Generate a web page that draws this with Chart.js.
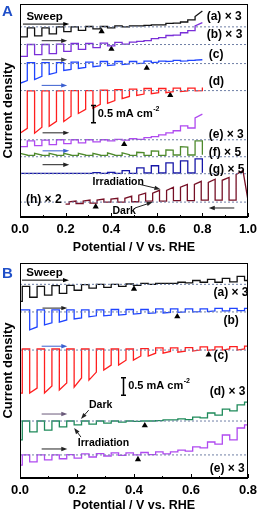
<!DOCTYPE html>
<html>
<head>
<meta charset="utf-8">
<script src="https://cdn.jsdelivr.net/npm/chart.js@4.4.1/dist/chart.umd.min.js"></script>
<style>
  body { margin: 0; background: #fff; }
  canvas { position: absolute; left: 0; }
</style>
</head>
<body>
<canvas id="chartA" width="262" height="257" style="top:0"></canvas>
<canvas id="chartB" width="262" height="256" style="top:257px"></canvas>
<script>
// x: potential / V vs. RHE, y: current density as plotted (mA cm-2, offset per trace)
// each trace: value at light on, value when light goes off, dark value after the pulse
// (all relative to the trace's dashed zero line)

// ---- panel A ----
const chopA = [0, 0.064, 0.128, 0.192, 0.256, 0.32, 0.384, 0.448, 0.512, 0.576, 0.64, 0.704, 0.768];
const chopAh = [0.978, 0.917, 0.856, 0.795, 0.734, 0.673, 0.612, 0.551, 0.49, 0.429, 0.368, 0.307, 0.246];
const labelsA = ['(a) × 3', '(b) × 3', '(c)', '(d)', '(e) × 3', '(f) × 5', '(g) × 5', '(h) × 2'];
const zeroA = [5.49, 4.98, 4.43, 3.65, 2.23, 1.74, 1.25, 0.43];
const onsetA = [0.358, 0.401, 0.556, 0.659, 0.457, null, null, 0.332];

const aA_light = [-0.29, -0.26, -0.2, -0.14, -0.1, -0.06, -0.03, 0, 0.03, 0.06, 0.1, 0.14, 0.3];
const aA_end   = [-0.29, -0.26, -0.2, -0.14, -0.1, -0.06, -0.03, 0, 0.03, 0.06, 0.1, 0.14, 0.46];
const aA_dark  = [-0.03, -0.03, 0, 0, 0.01, 0.01, 0.03, 0.03, 0.04, 0.06, 0.11, 0.2, 0.46];

const bA_light = [-0.34, -0.29, -0.26, -0.2, -0.14, -0.09, -0.04, 0.01, 0.09, 0.17, 0.26, 0.34, 0.54];
const bA_end   = [-0.34, -0.29, -0.26, -0.2, -0.14, -0.09, -0.04, 0.01, 0.09, 0.17, 0.26, 0.34, 0.63];
const bA_dark  = [0, 0, 0.01, 0.03, 0.03, 0.04, 0.06, 0.07, 0.11, 0.2, 0.27, 0.4, 0.63];

const cA_light = [-0.57, -0.46, -0.31, -0.2, -0.14, -0.09, -0.06, -0.03, 0, 0.03, 0.06, 0.07, 0.1];
const cA_end   = [-0.49, -0.37, -0.26, -0.17, -0.11, -0.07, -0.04, -0.01, 0.01, 0.04, 0.07, 0.08, 0.11];
const cA_dark  = [0.03, 0.03, 0.03, 0.04, 0.04, 0.06, 0.06, 0.06, 0.07, 0.07, 0.09, 0.09, 0.11];

const dA_light = [-1.23, -1.23, -1.03, -0.89, -0.66, -0.51, -0.37, -0.23, -0.14, -0.09, -0.06, -0.03, -0.01];
const dA_end   = [-1.09, -1.06, -0.89, -0.74, -0.54, -0.4, -0.29, -0.17, -0.1, -0.06, -0.03, -0.01, 0];
const dA_dark  = [-0.01, -0.01, -0.01, 0, 0, 0.01, 0.03, 0.04, 0.06, 0.06, 0.07, 0.07, 0.09];

const eA_light = [-0.2, -0.17, -0.14, -0.11, -0.09, -0.06, -0.03, -0.01, 0.01, 0.09, 0.2, 0.4, 0.63];
const eA_end   = [-0.2, -0.17, -0.14, -0.11, -0.09, -0.06, -0.03, -0.01, 0.01, 0.09, 0.2, 0.4, 0.74];
const eA_dark  = [-0.03, -0.01, 0, 0, 0, 0, 0.01, 0.03, 0.06, 0.14, 0.26, 0.34, 0.74];

const fA_light = [0.1, 0.1, 0.1, 0.1, 0.1, 0.1, 0.11, 0.11, 0.13, 0.17, 0.2, 0.29, 0.46];
const fA_end   = [0.05, 0.05, 0.05, 0.05, 0.05, 0.05, 0.05, 0.06, 0.12, 0.16, 0.19, 0.28, 0.46];
const fA_dark  = [0.04, 0.04, 0.04, 0.04, 0.04, 0.04, 0.04, 0.04, 0.04, 0.04, 0.05, 0.05, 0.06];

const gA_light = [0.01, 0.01, 0.01, 0.01, 0.01, 0.03, 0.04, 0.09, 0.17, 0.23, 0.31, 0.37, 0.43];
const gA_dark  = [0.01, 0.01, 0.01, 0.01, 0.01, 0.01, 0.01, 0.01, 0.02, 0.02, 0.02, 0.02, 0.03];

const hA_light = [0.91, 0.71, 0.66, 0.6, 0.51, 0.43, 0.34, 0.26, 0.17, 0.11, 0.09, 0.06, 0.03];
const hA_end   = [0.8, 0.63, 0.57, 0.51, 0.43, 0.34, 0.26, 0.2, 0.11, 0.09, 0.06, 0.03, 0.01];
const hA_dark  = [0.06, 0.06, 0.06, 0.04, 0.04, 0.03, 0.03, 0.01, 0, 0, -0.03, -0.04, -0.06];

// ---- panel B ----
const chopB = [-0.018, 0.034, 0.086, 0.138, 0.19, 0.242, 0.294, 0.346, 0.398, 0.45, 0.502, 0.554, 0.606, 0.658, 0.71, 0.762];
const labelsB = ['(a) × 3', '(b)', '(c)', '(d) × 3', '(e) × 3'];
const zeroB = [5.54, 4.75, 3.66, 1.63, 0.66];
const onsetB = [0.4, 0.552, 0.662, 0.438, 0.414];

const aB_light = [-0.49, -0.37, -0.31, -0.26, -0.17, -0.11, -0.09, -0.06, -0.03, 0, 0.03, 0.06, 0.11, 0.14, 0.17, 0.23];
const aB_dark  = [-0.06, -0.06, -0.04, -0.03, -0.01, 0, 0, 0.01, 0.03, 0.03, 0.03, 0.04, 0.06, 0.06, 0.07, 0.11];

const bB_light = [0.06, -0.51, -0.37, -0.29, -0.2, -0.14, -0.11, -0.09, -0.06, -0.04, -0.03, -0.01, 0, 0.01, 0.03, 0.04];
const bB_end   = [0.06, -0.43, -0.31, -0.23, -0.17, -0.11, -0.09, -0.07, -0.04, -0.03, -0.01, 0, 0.01, 0.03, 0.03, 0.04];
const bB_dark  = [0.06, 0.06, 0.06, 0.06, 0.06, 0.06, 0.07, 0.07, 0.07, 0.09, 0.09, 0.09, 0.09, 0.1, 0.1, 0.1];

const cB_light = [-1.23, -1.23, -1.23, -1.14, -1.06, -0.86, -0.57, -0.43, -0.29, -0.17, -0.09, -0.06, -0.03, -0.01, 0, 0];
const cB_end   = [-1.23, -1.09, -1.03, -0.94, -0.8, -0.63, -0.43, -0.29, -0.17, -0.09, -0.04, -0.03, 0, 0.01, 0.03, 0.03];
const cB_dark  = [0.03, 0.03, 0.03, 0.03, 0.03, 0.03, 0.03, 0.03, 0.04, 0.06, 0.06, 0.07, 0.09, 0.09, 0.1, 0.11];

const dB_light = [-0.54, -0.31, -0.26, -0.17, -0.11, -0.09, -0.06, -0.03, -0.01, 0, 0.03, 0.06, 0.11, 0.23, 0.34, 0.46];
const dB_dark  = [0, 0, 0, 0, 0, 0, 0, 0, 0, 0.01, 0.03, 0.04, 0.09, 0.17, 0.29, 0.54];

const eB_light = [-0.29, -0.2, -0.14, -0.11, -0.09, -0.06, -0.03, -0.01, 0, 0.01, 0.03, 0.14, 0.23, 0.37, 0.57, 0.77];
const eB_dark  = [0, 0, 0, 0.01, 0.03, 0.04, 0.06, 0.06, 0.07, 0.09, 0.09, 0.11, 0.2, 0.31, 0.43, 0.86];

const FONT = '"Liberation Sans", Arial, sans-serif';
Chart.defaults.font.family = FONT;

// square wave from the chopped-light readings
function chopTrace(on, half, from, to, zero, light, dark, end, start) {
  const dir = to > from ? 1 : -1;
  const lo = Math.min(from, to), hi = Math.max(from, to);
  const clip = v => Math.min(hi, Math.max(lo, v));
  const pts = [];
  if (start !== undefined) pts.push({ x: from, y: zero + start });
  on.forEach((v, k) => {
    const off = v + dir * half;
    const next = k + 1 < on.length ? on[k + 1] : to;
    pts.push({ x: clip(v), y: zero + light[k] });
    pts.push({ x: clip(off), y: zero + (end ? end[k] : light[k]) });
    pts.push({ x: clip(off), y: zero + dark[k] });
    pts.push({ x: clip(next), y: zero + dark[k] });
  });
  return pts;
}

function makeDecor(n) {
  return {
    id: 'decor',
    afterDatasetsDraw(chart) {
      const { ctx, chartArea: a, scales: { x, y } } = chart;
      const px = v => x.getPixelForValue(v), py = v => y.getPixelForValue(v);
      ctx.save();
      // box
      ctx.strokeStyle = '#000';
      ctx.lineWidth = 1;
      ctx.strokeRect(Math.round(a.left) + 0.5, Math.round(a.top) + 0.5, Math.round(a.width) - 1, Math.round(a.height) - 1);
      // inward ticks
      x.ticks.forEach(t => {
        const xx = Math.round(px(t.value)) + 0.5;
        const major = Math.round(t.value * 10) % 2 === 0;
        ctx.beginPath();
        ctx.moveTo(xx, a.bottom);
        ctx.lineTo(xx, a.bottom - (major ? 4 : 2));
        ctx.stroke();
      });
      // panel letter
      ctx.fillStyle = '#1f4fc8';
      ctx.font = 'bold 15px ' + FONT;
      ctx.textBaseline = 'alphabetic';
      ctx.textAlign = 'left';
      ctx.fillText(n.letter, 2, n.letterY);
      // texts
      ctx.fillStyle = '#000';
      ctx.textBaseline = 'middle';
      n.texts.forEach(t => {
        ctx.font = 'bold ' + t[4] + 'px ' + FONT;
        ctx.textAlign = t[3];
        ctx.fillText(t[0], px(t[1]), py(t[2]));
      });
      // arrows
      n.arrows.forEach(r => {
        const x1 = px(r[0]), y1 = py(r[1]), x2 = px(r[2]), y2 = py(r[3]);
        const ang = Math.atan2(y2 - y1, x2 - x1);
        ctx.strokeStyle = r[4];
        ctx.fillStyle = r[4];
        ctx.lineWidth = 1;
        ctx.beginPath();
        ctx.moveTo(x1, y1);
        ctx.lineTo(x2 - 4 * Math.cos(ang), y2 - 4 * Math.sin(ang));
        ctx.stroke();
        ctx.beginPath();
        ctx.moveTo(x2, y2);
        ctx.lineTo(x2 - 6 * Math.cos(ang) + 2.2 * Math.sin(ang), y2 - 6 * Math.sin(ang) - 2.2 * Math.cos(ang));
        ctx.lineTo(x2 - 6 * Math.cos(ang) - 2.2 * Math.sin(ang), y2 - 6 * Math.sin(ang) + 2.2 * Math.cos(ang));
        ctx.closePath();
        ctx.fill();
      });
      // 0.5 mA cm-2 scale bar
      const bx = Math.round(px(n.bar[0])) + 0.5, b0 = py(n.bar[1]), b1 = py(n.bar[1] + 0.5);
      ctx.strokeStyle = '#000';
      ctx.lineWidth = 1.5;
      ctx.beginPath();
      ctx.moveTo(bx, b0); ctx.lineTo(bx, b1);
      ctx.moveTo(bx - 2.5, b0); ctx.lineTo(bx + 2.5, b0);
      ctx.moveTo(bx - 2.5, b1); ctx.lineTo(bx + 2.5, b1);
      ctx.stroke();
      ctx.fillStyle = '#000';
      ctx.textAlign = 'left';
      ctx.font = 'bold 11px ' + FONT;
      const tx = px(n.bar[0]) + 5, ty = (b0 + b1) / 2;
      ctx.fillText('0.5 mA cm', tx, ty);
      const w = ctx.measureText('0.5 mA cm').width;
      ctx.font = 'bold 7px ' + FONT;
      ctx.fillText('-2', tx + w + 0.5, ty - 5);
      ctx.restore();
    }
  };
}

function makeChart(id, p) {
  const datasets = [];
  p.zero.forEach(z => datasets.push({
    data: [{ x: 0, y: z }, { x: p.xmax, y: z }],
    borderColor: '#6f7fa6', borderWidth: 1, borderDash: [2, 2], pointRadius: 0
  }));
  p.traces.forEach(t => datasets.push({
    data: t.data, borderColor: t.color, borderWidth: 1.3, pointRadius: 0, tension: 0
  }));
  const tri = [];
  p.onset.forEach((v, i) => { if (v !== null) tri.push({ x: v, y: p.zero[i] - 0.13 }); });
  datasets.push({
    data: tri, showLine: false, pointStyle: 'triangle', pointRadius: 3.6,
    backgroundColor: '#000', borderColor: '#000', borderWidth: 0
  });

  return new Chart(document.getElementById(id), {
    type: 'line',
    data: { datasets },
    options: {
      responsive: false,
      animation: false,
      events: [],
      layout: { padding: { top: p.top, right: 10, left: 0, bottom: 0 } },
      plugins: { legend: { display: false }, tooltip: { enabled: false } },
      scales: {
        x: {
          type: 'linear', min: 0, max: p.xmax,
          ticks: {
            stepSize: 0.1, autoSkip: false, maxRotation: 0, padding: 5, color: '#000',
            font: { weight: 'bold', size: 13 },
            callback: v => (Math.round(v * 10) % 2 === 0 ? v.toFixed(1) : '')
          },
          grid: { display: false, drawTicks: false },
          border: { display: true, color: '#000' },
          title: {
            display: true, text: 'Potential / V vs. RHE', color: '#000',
            font: { weight: 'bold', size: 12.5 }, padding: { top: 0, bottom: p.titlePad }
          },
          afterFit: s => { s.height = p.xh; }
        },
        y: {
          min: 0, max: 6.15,
          ticks: { display: false },
          grid: { display: false, drawTicks: false },
          border: { display: true, color: '#000' },
          title: {
            display: true, text: 'Current density', color: '#000',
            font: { weight: 'bold', size: 13 }, padding: { top: 1, bottom: 0 }
          },
          afterFit: s => { s.width = 20; }
        }
      }
    },
    plugins: [makeDecor(p.notes)]
  });
}

window.addEventListener('load', function () {

  const colA = ['#111111', '#7a2fd8', '#1f44ff', '#ff1f1f', '#b04af0', '#4e8a2c', '#1717a8', '#761026'];
  const lightA = [aA_light, bA_light, cA_light, dA_light, eA_light, fA_light, gA_light];
  const endA = [aA_end, bA_end, cA_end, dA_end, eA_end, fA_end, null];
  const darkA = [aA_dark, bA_dark, cA_dark, dA_dark, eA_dark, fA_dark, gA_dark];
  const tracesA = lightA.map((l, i) => ({
    color: colA[i],
    data: chopTrace(chopA, 0.032, 0, 0.8, zeroA[i], l, darkA[i], endA[i])
  }));
  tracesA.push({ color: colA[7], data: chopTrace(chopAh, 0.03, 1.0, 0.2, zeroA[7], hA_light, hA_dark, hA_end, 0.06) });

  const labelPosA = [[0.819, 5.77], [0.819, 5.26], [0.828, 4.69], [0.828, 3.91], [0.828, 2.37], [0.828, 1.86], [0.828, 1.37], [0.026, 0.51]];
  makeChart('chartA', {
    xmax: 1.0, top: 2, xh: 40, titlePad: 2,
    zero: zeroA, onset: onsetA, traces: tracesA,
    notes: {
      letter: 'A', letterY: 16,
      texts: labelsA.map((s, i) => [s, labelPosA[i][0], labelPosA[i][1], 'left', 12])
        .concat([
          ['Sweep', 0.108, 5.77, 'center', 11.5],
          ['Irradiation', 0.431, 1.0, 'center', 10.5],
          ['Dark', 0.457, 0.17, 'center', 10.5]
        ]),
      arrows: [
        [0.013, 5.57, 0.216, 5.57, '#000'],
        [0.095, 5.09, 0.207, 5.09, '#222'],
        [0.095, 4.54, 0.207, 4.54, '#444'],
        [0.095, 3.8, 0.207, 3.8, '#3a5fd0'],
        [0.099, 2.43, 0.216, 2.43, '#222'],
        [0.099, 1.91, 0.216, 1.91, '#3a5fd0'],
        [0.099, 1.51, 0.216, 1.51, '#222'],
        [0.94, 0.26, 0.828, 0.26, '#222'],
        [0.526, 0.94, 0.616, 0.8, '#222'],
        [0.504, 0.26, 0.582, 0.43, '#222']
      ],
      bar: [0.319, 2.72]
    }
  });

  const colB = ['#111111', '#1f44ff', '#ff1f1f', '#1e8a5a', '#b04af0'];
  const lightB = [aB_light, bB_light, cB_light, dB_light, eB_light];
  const endB = [null, bB_end, cB_end, null, null];
  const darkB = [aB_dark, bB_dark, cB_dark, dB_dark, eB_dark];
  const tracesB = lightB.map((l, i) => ({
    color: colB[i],
    data: chopTrace(chopB, 0.026, 0, 0.8, zeroB[i], l, darkB[i], endB[i])
  }));

  const labelPosB = [[0.679, 5.31], [0.714, 4.51], [0.679, 3.51], [0.666, 2.46], [0.666, 0.26]];
  makeChart('chartB', {
    xmax: 0.8, top: 6, xh: 35, titlePad: 0,
    zero: zeroB, onset: onsetB, traces: tracesB,
    notes: {
      letter: 'B', letterY: 21,
      texts: labelsB.map((s, i) => [s, labelPosB[i][0], labelPosB[i][1], 'left', 12])
        .concat([
          ['Sweep', 0.086, 5.86, 'center', 11.5],
          ['Dark', 0.283, 2.09, 'center', 10.5],
          ['Irradiation', 0.293, 1.0, 'center', 10.5]
        ]),
      arrows: [
        [0.007, 5.66, 0.172, 5.66, '#000'],
        [0.079, 4.86, 0.166, 4.86, '#222'],
        [0.076, 3.77, 0.166, 3.77, '#3a5fd0'],
        [0.076, 1.83, 0.166, 1.83, '#6a5a7a'],
        [0.076, 0.83, 0.166, 0.83, '#222'],
        [0.241, 1.94, 0.214, 1.69, '#222'],
        [0.214, 1.17, 0.19, 1.43, '#222']
      ],
      bar: [0.362, 2.37]
    }
  });
});
</script>
</body>
</html>
